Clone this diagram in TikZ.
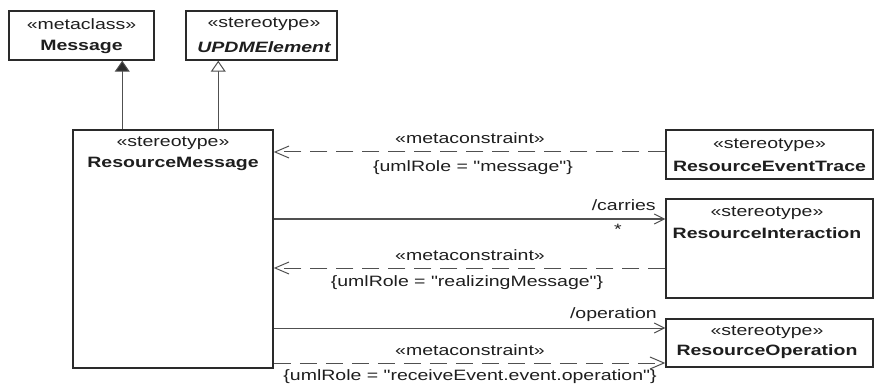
\documentclass[tikz,border=0pt]{standalone}
\usepackage{fontspec}
\setmainfont{Liberation Sans}[Ligatures=TeXOff]
\usetikzlibrary{arrows.meta}
\definecolor{ln}{HTML}{505050}
\definecolor{bx}{HTML}{2A2A2A}
\definecolor{tx}{HTML}{1E1E1E}
\begin{document}
\begin{tikzpicture}[x=1pt,y=-1pt,
  box/.style={draw=bx, line width=1.5pt, rectangle, inner sep=0pt},
  lbl/.style={font=\fontsize{15}{17}\selectfont, xscale=1.3, inner sep=0pt, text=tx},
  nm/.style={lbl, font=\fontsize{15}{17}\selectfont\bfseries},
  conn/.style={draw=ln, line width=1pt},
  genfill/.style={conn, -{Triangle[length=11pt,width=15pt,fill=bx]}},
  genopen/.style={conn, -{Triangle[open,length=11pt,width=15pt,fill=white]}},
  dep/.style={conn, dash pattern=on 17pt off 9pt, -{Straight Barb[length=14pt,width=12pt]}},
  nav/.style={conn, -{Straight Barb[length=10pt,width=10pt]}}]
\useasboundingbox (0,0) rectangle (874,387);

% boxes
\node[box, minimum width=145pt, minimum height=49pt] (msg) at (81.5,35.5) {};
\node[box, minimum width=151pt, minimum height=49pt] (updm) at (261.5,35.5) {};
\node[box, minimum width=200pt, minimum height=238pt] (rm) at (173,249) {};
\node[box, minimum width=207pt, minimum height=49pt] (ret) at (769.5,154.5) {};
\node[box, minimum width=207pt, minimum height=99pt] (ri) at (769.5,248.5) {};
\node[box, minimum width=207pt, minimum height=48pt] (ro) at (769.5,343) {};

% box texts
\node[lbl] (msgs) at (81.5,24) {«metaclass»};
\node[nm] (msgn) at (81.5,47) {Message};
\node[lbl] (updms) at (264,24) {«stereotype»};
\node[lbl, font=\fontsize{15}{17}\selectfont\bfseries\itshape] (updmn) at (264,47) {UPDMElement};
\node[lbl] (rms) at (173,143) {«stereotype»};
\node[nm] (rmn) at (173,164) {ResourceMessage};
\node[lbl] (rets) at (769.5,145) {«stereotype»};
\node[nm] (retn) at (769.5,166) {ResourceEventTrace};
\node[lbl] (ris) at (767,213) {«stereotype»};
\node[nm] (rin) at (767,233) {ResourceInteraction};
\node[lbl] (ros) at (767,332) {«stereotype»};
\node[nm] (ron) at (767,352) {ResourceOperation};

% generalizations
\draw[genfill] ([xshift=50pt]rm.north west) -- ([xshift=50pt]rm.north west |- msg.south);
\draw[genopen] ([xshift=146pt]rm.north west) -- ([xshift=146pt]rm.north west |- updm.south);

% dependencies and associations
\draw[dep] ([yshift=2.5pt]ret.west) -- ([yshift=2.5pt]ret.west -| rm.east);
\draw[nav] ([yshift=29.5pt]ri.west -| rm.east) -- ([yshift=29.5pt]ri.west);
\draw[dep] ([yshift=-19.5pt]ri.west) -- ([yshift=-19.5pt]ri.west -| rm.east);
\draw[nav] ([yshift=15pt]ro.west -| rm.east) -- ([yshift=15pt]ro.west);
\draw[dep] ([yshift=-20pt]ro.west -| rm.east) -- ([yshift=-20pt]ro.west);

% connector labels
\node[lbl] (c1) at (470,138) {«metaconstraint»};
\node[lbl] (c1r) at (473,168) {\{umlRole = "message"\}};
\node[lbl, anchor=east] (carr) at (656,205) {/carries};
\node[lbl] (mult) at (618,229) {*};
\node[lbl] (c2) at (470,255) {«metaconstraint»};
\node[lbl] (c2r) at (467,283) {\{umlRole = "realizingMessage"\}};
\node[lbl, anchor=east] (oper) at (657,315) {/operation};
\node[lbl] (c3) at (470,350) {«metaconstraint»};
\node[lbl] (c3r) at (470,377) {\{umlRole = "receiveEvent.event.operation"\}};
\end{tikzpicture}
\end{document}
